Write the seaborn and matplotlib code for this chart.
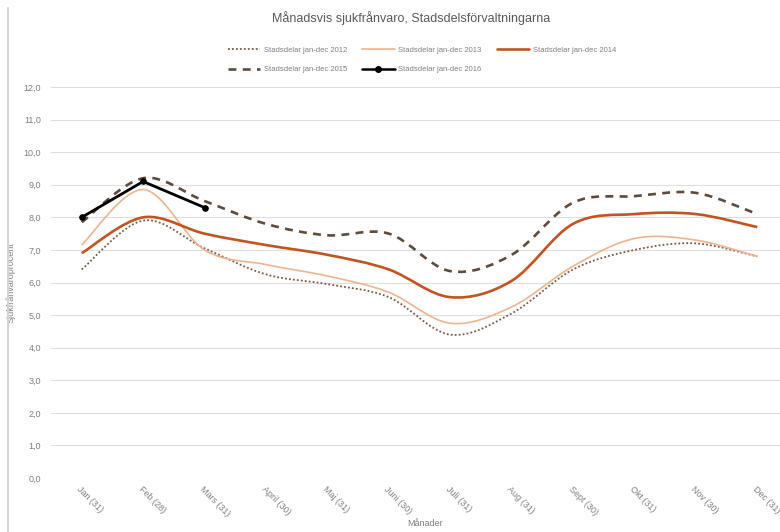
#monthly sick leave per district, smoothed lines like the excel original

import matplotlib
matplotlib.use("Agg")
import matplotlib.pyplot as plt
from matplotlib.path import Path
from matplotlib.patches import PathPatch
from matplotlib.lines import Line2D
import seaborn as sns

# data
months = ["Jan (31)", "Feb (28)", "Mars (31)", "April (30)", "Maj (31)", "Juni (30)",
          "Juli (31)", "Aug (31)", "Sept (30)", "Okt (31)", "Nov (30)", "Dec (31)"]
s2012 = [6.4, 7.9, 7.05, 6.25, 5.95, 5.55, 4.4, 5.05, 6.4, 7.0, 7.2, 6.8]
s2013 = [7.15, 8.85, 7.0, 6.55, 6.2, 5.7, 4.75, 5.25, 6.5, 7.35, 7.3, 6.8]
s2014 = [6.9, 8.0, 7.5, 7.15, 6.85, 6.4, 5.55, 6.05, 7.8, 8.1, 8.1, 7.7]
s2015 = [7.85, 9.2, 8.5, 7.8, 7.45, 7.5, 6.35, 6.85, 8.45, 8.65, 8.75, 8.1]
s2016 = [8.0, 9.1, 8.3]
labels = ["Stadsdelar jan-dec 2012", "Stadsdelar jan-dec 2013", "Stadsdelar jan-dec 2014",
          "Stadsdelar jan-dec 2015", "Stadsdelar jan-dec 2016"]
yticks = [0, 1, 2, 3, 4, 5, 6, 7, 8, 9, 10, 11, 12]

sns.set_theme(style="white")
plt.rcParams['font.family'] = ['Liberation Sans', 'DejaVu Sans']
grey = "#7f7f7f"


# catmull-rom style bezier path, the way excel smooths lines
def smooth_path(ys):
    xs = list(range(len(ys)))
    pts = list(zip(xs, ys))
    verts = [pts[0]]
    codes = [Path.MOVETO]
    n = len(pts)
    for i in range(n - 1):
        p0 = pts[max(i - 1, 0)]
        p1 = pts[i]
        p2 = pts[i + 1]
        p3 = pts[min(i + 2, n - 1)]
        c1 = (p1[0] + (p2[0] - p0[0]) / 6, p1[1] + (p2[1] - p0[1]) / 6)
        c2 = (p2[0] - (p3[0] - p1[0]) / 6, p2[1] - (p3[1] - p1[1]) / 6)
        verts += [c1, c2, p2]
        codes += [Path.CURVE4] * 3
    return Path(verts, codes)


fig = plt.figure(figsize=(7.8, 5.32), dpi=100)
ax = fig.add_axes([51 / 780, 54 / 532, 729 / 780, 391 / 532])

styles = [
    (s2012, dict(color="#7b5a45", lw=1.3, ls=(0, (1, 1.2)))),
    (s2013, dict(color="#eeb48f", lw=1.2, ls="-")),
    (s2014, dict(color="#c4531f", lw=1.9, ls="-")),
    (s2015, dict(color="#5e4b3c", lw=1.9, ls=(0, (3, 2.4)))),
]
handles = []
for (vals, st), lab in zip(styles, labels):
    patch = PathPatch(smooth_path(vals), fill=False, edgecolor=st["color"],
                      lw=st["lw"], linestyle=st["ls"], capstyle="butt", zorder=3)
    ax.add_patch(patch)
    handles.append(Line2D([], [], color=st["color"], lw=st["lw"], ls=st["ls"], label=lab))

sns.lineplot(x=list(range(len(s2016))), y=s2016, ax=ax, color="black", lw=2.0,
             marker="o", markersize=4, markeredgecolor="black", legend=False, zorder=4)
handles.append(Line2D([], [], color="black", lw=1.8, marker="o", markersize=4, label=labels[4]))

ax.set_xlim(-0.5, 11.37)
ax.set_ylim(0, 12)
ax.set_yticks(yticks)
ax.set_yticklabels([f"{v:.1f}".replace(".", ",") for v in yticks], fontsize=6.5, color=grey)
ax.set_xticks(range(len(months)))
ax.set_xticklabels(months, rotation=-45, ha="left", va="top", rotation_mode="anchor",
                   fontsize=6.5, color=grey)
ax.tick_params(axis="y", length=0, pad=7)
ax.tick_params(axis="x", length=0, pad=5)
ax.grid(axis="y", color="#dedede", lw=0.8)
ax.grid(axis="x", visible=False)
for sp in ax.spines.values():
    sp.set_visible(False)

ax.set_ylabel("Sjukfrånvaroprocent", fontsize=6.5, color=grey)
ax.yaxis.set_label_coords(-0.049, 0.5)

fig.text(425 / 780, 1 - 523 / 532, "Månader", ha="center", va="center",
         fontsize=6.5, color=grey)
fig.text(411 / 780, 1 - 18 / 532, "Månadsvis sjukfrånvaro, Stadsdelsförvaltningarna",
         ha="center", va="center", fontsize=9, color="#595959")

order = [handles[0], handles[3], handles[1], handles[4], handles[2]]
fig.legend(handles=order, labels=[h.get_label() for h in order], ncol=3,
           loc="center", bbox_to_anchor=(422 / 780, 1 - 60 / 532), frameon=False,
           fontsize=5.5, labelcolor=grey, handlelength=4.2, columnspacing=2.0,
           handletextpad=0.5, labelspacing=1.6)

# left frame edge of the original chart
fig.add_artist(Line2D([8 / 780, 8 / 780], [0, 0.985], color="#d4d4d4", lw=1.5))

fig.savefig("out.png", dpi=100)
